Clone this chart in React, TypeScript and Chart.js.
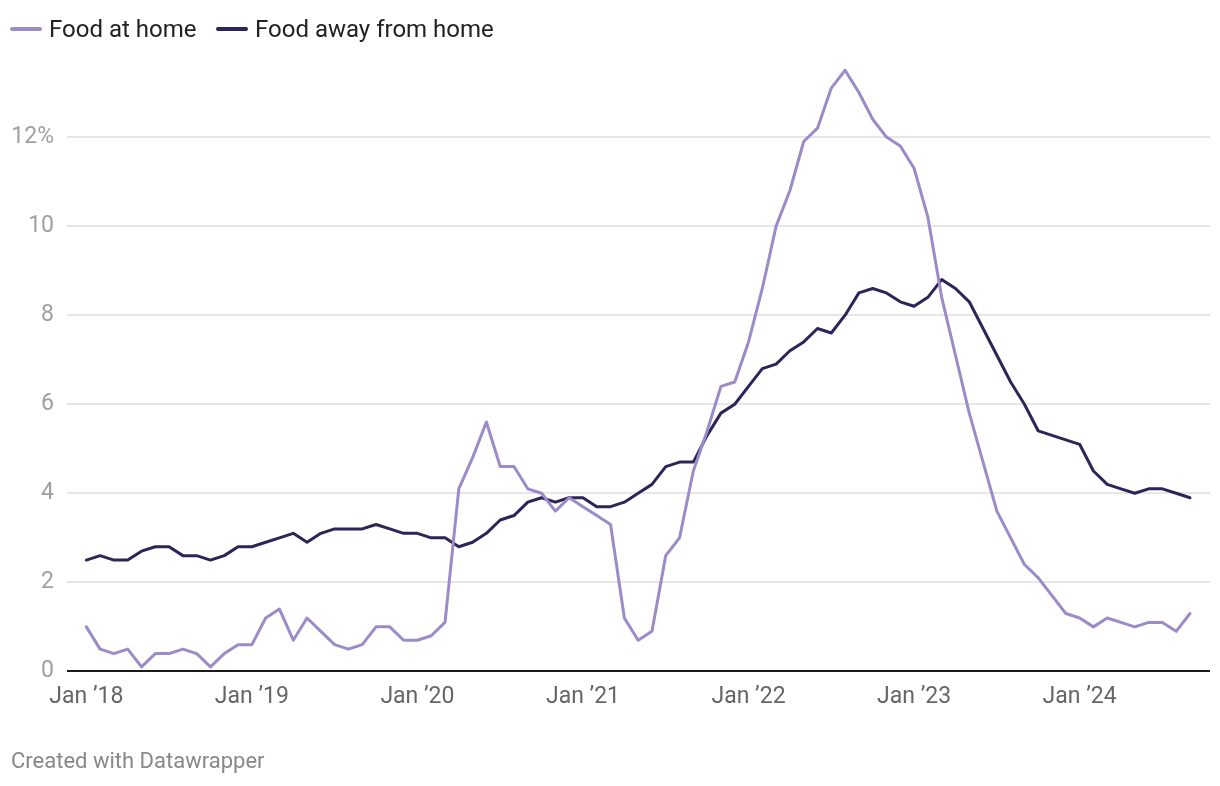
import React, { useEffect, useRef } from "react";
import { Chart, registerables } from "chart.js";

Chart.register(...registerables);

// Monthly, Jan 2018 – Sep 2024, year-over-year % change
const foodAtHome = [
  1.0, 0.5, 0.4, 0.5, 0.1, 0.4, 0.4, 0.5, 0.4, 0.1, 0.4, 0.6,
  0.6, 1.2, 1.4, 0.7, 1.2, 0.9, 0.6, 0.5, 0.6, 1.0, 1.0, 0.7,
  0.7, 0.8, 1.1, 4.1, 4.8, 5.6, 4.6, 4.6, 4.1, 4.0, 3.6, 3.9,
  3.7, 3.5, 3.3, 1.2, 0.7, 0.9, 2.6, 3.0, 4.5, 5.4, 6.4, 6.5,
  7.4, 8.6, 10.0, 10.8, 11.9, 12.2, 13.1, 13.5, 13.0, 12.4, 12.0, 11.8,
  11.3, 10.2, 8.4, 7.1, 5.8, 4.7, 3.6, 3.0, 2.4, 2.1, 1.7, 1.3,
  1.2, 1.0, 1.2, 1.1, 1.0, 1.1, 1.1, 0.9, 1.3,
];

const foodAwayFromHome = [
  2.5, 2.6, 2.5, 2.5, 2.7, 2.8, 2.8, 2.6, 2.6, 2.5, 2.6, 2.8,
  2.8, 2.9, 3.0, 3.1, 2.9, 3.1, 3.2, 3.2, 3.2, 3.3, 3.2, 3.1,
  3.1, 3.0, 3.0, 2.8, 2.9, 3.1, 3.4, 3.5, 3.8, 3.9, 3.8, 3.9,
  3.9, 3.7, 3.7, 3.8, 4.0, 4.2, 4.6, 4.7, 4.7, 5.3, 5.8, 6.0,
  6.4, 6.8, 6.9, 7.2, 7.4, 7.7, 7.6, 8.0, 8.5, 8.6, 8.5, 8.3,
  8.2, 8.4, 8.8, 8.6, 8.3, 7.7, 7.1, 6.5, 6.0, 5.4, 5.3, 5.2,
  5.1, 4.5, 4.2, 4.1, 4.0, 4.1, 4.1, 4.0, 3.9,
];

const seriesLabels = ["Food at home", "Food away from home"];
const xTickPositions = [0, 12, 24, 36, 48, 60, 72];
const xTickLabels = ["Jan ’18", "Jan ’19", "Jan ’20", "Jan ’21", "Jan ’22", "Jan ’23", "Jan ’24"];
const yTickValues = [0, 2, 4, 6, 8, 10, 12];
const yTickLabels = ["0", "2", "4", "6", "8", "10", "12%"];

const LIGHT = "#9b8bc8";
const DARK = "#2e2457";
const FONT = "Roboto, 'Noto Sans', sans-serif";

export default function App() {
  const ref = useRef<HTMLCanvasElement>(null);

  useEffect(() => {
    const canvas = ref.current;
    if (!canvas) return;
    const chart = new Chart(canvas, {
      type: "line",
      data: {
        datasets: [
          {
            label: seriesLabels[0],
            data: foodAtHome.map((v, i) => ({ x: i, y: v })),
            borderColor: LIGHT,
            backgroundColor: LIGHT,
            borderWidth: 3,
            pointRadius: 0,
            tension: 0,
            borderJoinStyle: "round",
            borderCapStyle: "round",
          },
          {
            label: seriesLabels[1],
            data: foodAwayFromHome.map((v, i) => ({ x: i, y: v })),
            borderColor: DARK,
            backgroundColor: DARK,
            borderWidth: 3,
            pointRadius: 0,
            tension: 0,
            borderJoinStyle: "round",
            borderCapStyle: "round",
          },
        ],
      },
      options: {
        responsive: false,
        animation: false,
        events: [],
        layout: { padding: { left: 0, right: 10, top: 48, bottom: 63 } },
        plugins: {
          legend: { display: false },
          tooltip: { enabled: false },
        },
        scales: {
          x: {
            type: "linear",
            min: -1.4,
            max: 81.45,
            afterBuildTicks: (scale: any) => {
              scale.ticks = xTickPositions.map((v) => ({ value: v }));
            },
            ticks: {
              autoSkip: false,
              maxRotation: 0,
              padding: 12,
              color: "#666666",
              font: { family: FONT, size: 23 },
              callback: (value: any) => {
                const idx = xTickPositions.indexOf(Number(value));
                return idx >= 0 ? xTickLabels[idx] : "";
              },
            },
            grid: { display: false, drawTicks: false },
            border: { display: false },
          },
          y: {
            min: 0,
            max: 14,
            afterBuildTicks: (scale: any) => {
              scale.ticks = yTickValues.map((v) => ({ value: v }));
            },
            afterFit: (scale: any) => {
              scale.width = 67;
            },
            ticks: {
              padding: 13,
              color: "#a0a0a0",
              font: { family: FONT, size: 23 },
              callback: (value: any) => {
                const idx = yTickValues.indexOf(Number(value));
                return idx >= 0 ? yTickLabels[idx] : "";
              },
            },
            grid: {
              drawTicks: false,
              color: (ctx: any) => (ctx.tick && ctx.tick.value === 0 ? "#1a1a1a" : "#e6e6e6"),
              lineWidth: 2,
            },
            border: { display: false },
          },
        },
      },
    });
    return () => chart.destroy();
  }, []);

  const legendItem = (label: string, color: string, left: number) => (
    <div
      key={label}
      style={{ position: "absolute", left, top: 14, height: 30, display: "flex", alignItems: "center" }}
    >
      <span
        style={{
          display: "inline-block",
          width: 32,
          height: 4,
          borderRadius: 2,
          background: color,
          marginRight: 7,
        }}
      />
      <span style={{ fontFamily: FONT, fontSize: 24, color: "#222222", whiteSpace: "nowrap" }}>{label}</span>
    </div>
  );

  return (
    <div style={{ position: "fixed", left: 0, top: 0, width: 1220, height: 786, background: "#ffffff" }}>
      <canvas ref={ref} width={1220} height={786} style={{ position: "absolute", left: 0, top: 0 }} />
      {legendItem(seriesLabels[0], LIGHT, 10)}
      {legendItem(seriesLabels[1], DARK, 216)}
      <div
        style={{
          position: "absolute",
          left: 11,
          top: 748,
          fontFamily: FONT,
          fontSize: 22,
          color: "#888888",
          whiteSpace: "nowrap",
        }}
      >
        Created with Datawrapper
      </div>
    </div>
  );
}
